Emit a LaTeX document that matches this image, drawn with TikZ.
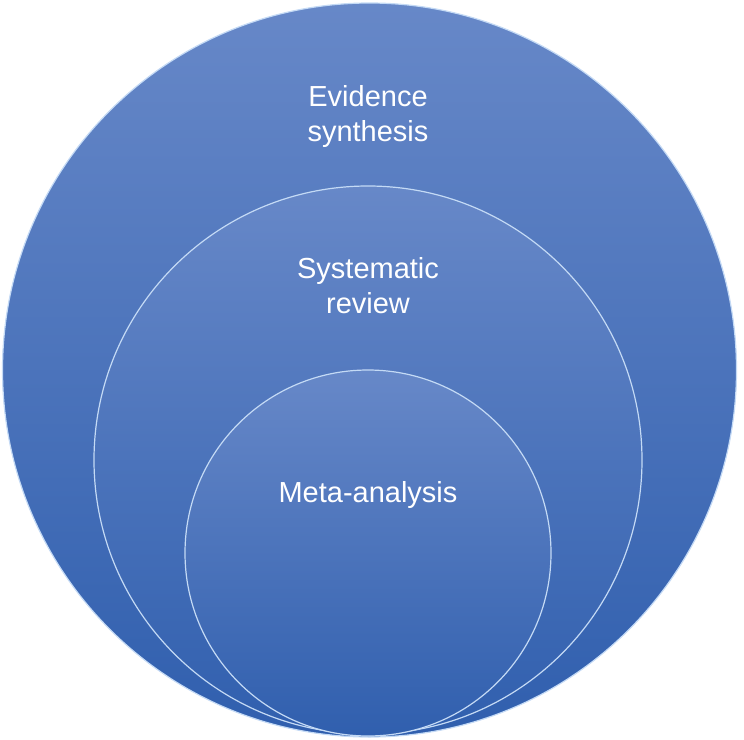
\documentclass[tikz,border=0pt]{standalone}
\usepackage{fontspec}
\setmainfont{Liberation Sans}
\definecolor{topblue}{HTML}{6788C8}
\definecolor{midblue}{HTML}{4A77C0}
\definecolor{botblue}{HTML}{305FAE}
\definecolor{rimlight}{HTML}{C4DAF5}
\begin{document}
\begin{tikzpicture}[x=1pt,y=-1pt,
  ring/.style={circle, inner sep=0pt, outer sep=0pt, top color=topblue, middle color=midblue, bottom color=botblue, draw=rimlight, line width=1.2pt},
  label/.style={text=white, font=\fontsize{29}{35}\selectfont, align=center}]
\useasboundingbox (0,0) rectangle (744,739);
\node[ring, minimum size=734pt] (outer) at (369.5,370) {};
\node[ring, minimum size=548pt] (middle) at (368,460) {};
\node[ring, minimum size=366pt] (inner) at (368,553) {};
\node[label] (evid) at (368,116) {Evidence\\synthesis};
\node[label] (sysrev) at (368,286) {Systematic\\review};
\node[label] (meta) at (368,495) {Meta-analysis};
\end{tikzpicture}
\end{document}
